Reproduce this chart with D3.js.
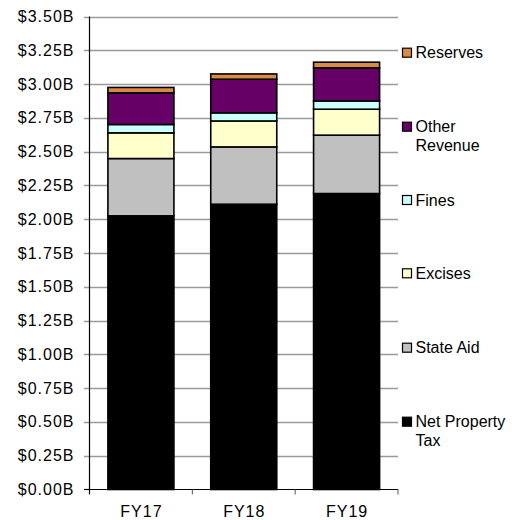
<!DOCTYPE html>
<html>
<head>
<meta charset="utf-8">
<script src="https://cdn.jsdelivr.net/npm/d3@7"></script>
<style>
  html, body { margin: 0; padding: 0; background: #fff; }
  svg { display: block; }
  text { font-family: "Liberation Sans", Arial, sans-serif; fill: #000; }
</style>
</head>
<body>
<svg id="chart" width="521" height="520"></svg>
<script>
// ---- Data ----
const categories = ["FY17", "FY18", "FY19"];
const seriesNames = ["Net Property Tax", "State Aid", "Excises", "Fines", "Other Revenue", "Reserves"];
const netPropertyTax = [2.025, 2.111, 2.190];
const stateAid       = [0.424, 0.424, 0.432];
const excises        = [0.190, 0.192, 0.192];
const fines          = [0.062, 0.060, 0.061];
const otherRevenue   = [0.234, 0.249, 0.245];
const reserves       = [0.040, 0.039, 0.042];
const yTicks = [0, 0.25, 0.5, 0.75, 1.0, 1.25, 1.5, 1.75, 2.0, 2.25, 2.5, 2.75, 3.0, 3.25, 3.5];
const colors = ["#000000", "#C0C0C0", "#FFFFCC", "#CCFFFF", "#660066", "#DA8A45"];
const legendLabels = [["Net Property", "Tax"], ["State Aid"], ["Excises"], ["Fines"], ["Other", "Revenue"], ["Reserves"]];

const seriesValues = [netPropertyTax, stateAid, excises, fines, otherRevenue, reserves];
const table = categories.map((c, i) => {
  const row = { cat: c };
  seriesNames.forEach((s, j) => row[s] = seriesValues[j][i]);
  return row;
});

// ---- Layout ----
const plotLeft = 89.5, plotRight = 398, plotTop = 16.5, plotBottom = 489.5;
const svg = d3.select("#chart");

const y = d3.scaleLinear().domain([0, 3.5]).range([plotBottom, plotTop]);
const x = d3.scaleBand().domain(categories).range([plotLeft, plotRight])
  .paddingInner(0.358).paddingOuter(0.179);

// gridlines (with left tick stubs)
svg.append("g").selectAll("line").data(yTicks).join("line")
  .attr("x1", plotLeft - 5.5).attr("x2", plotRight)
  .attr("y1", d => Math.round(y(d)) + 0.5).attr("y2", d => Math.round(y(d)) + 0.5)
  .attr("stroke", d => d === 0 ? "none" : "#9a9a9a").attr("stroke-width", 1.3);

// y tick labels
svg.append("g").selectAll("text").data(yTicks).join("text")
  .attr("x", 74.5).attr("y", d => y(d) + 5.5)
  .attr("text-anchor", "end")
  .style("font-size", "16px").style("letter-spacing", "1px")
  .text(d => "$" + d3.format(".2f")(d) + "B");

// stacked bars
const stack = d3.stack().keys(seriesNames);
const stacked = stack(table);
svg.append("g").selectAll("g").data(stacked).join("g")
  .attr("fill", (d, i) => colors[i])
  .selectAll("rect").data(d => d).join("rect")
  .attr("x", d => x(d.data.cat))
  .attr("width", x.bandwidth())
  .attr("y", d => y(d[1]))
  .attr("height", d => y(d[0]) - y(d[1]))
  .attr("stroke", "#000").attr("stroke-width", 1.6);

// y axis line
svg.append("line").attr("x1", plotLeft).attr("x2", plotLeft).attr("y1", plotTop).attr("y2", plotBottom + 5)
  .attr("stroke", "#000").attr("stroke-width", 1.2);
// y=0 tick
svg.append("line").attr("x1", plotLeft - 5.5).attr("x2", plotLeft).attr("y1", plotBottom).attr("y2", plotBottom)
  .attr("stroke", "#000").attr("stroke-width", 1.2);
// x axis line
svg.append("line").attr("x1", plotLeft).attr("x2", plotRight).attr("y1", plotBottom).attr("y2", plotBottom)
  .attr("stroke", "#000").attr("stroke-width", 1.2);
// x category boundary ticks
const boundaries = categories.map(c => x(c) - x.step() * x.paddingOuter() + x.step());
svg.append("g").selectAll("line").data(boundaries).join("line")
  .attr("x1", d => d).attr("x2", d => d).attr("y1", plotBottom).attr("y2", plotBottom + 5)
  .attr("stroke", "#555").attr("stroke-width", 1);

// x labels
svg.append("g").selectAll("text").data(categories).join("text")
  .attr("x", d => x(d) + x.bandwidth() / 2 + 0.5).attr("y", 516.5)
  .attr("text-anchor", "middle")
  .style("font-size", "16px").style("letter-spacing", "1px")
  .text(d => d);

// legend
const legendY = [421.7, 347.7, 273.3, 200, 126.7, 52.7];
const lg = svg.append("g").selectAll("g").data(seriesNames).join("g")
  .attr("transform", (d, i) => `translate(402, ${legendY[i]})`);
lg.append("rect").attr("x", 0.5).attr("y", -4.5).attr("width", 9).attr("height", 9)
  .attr("fill", (d, i) => colors[i]).attr("stroke", "#000").attr("stroke-width", 1.2);
lg.each(function (d, i) {
  const t = d3.select(this).append("text").attr("x", 13.5).attr("y", 5.5)
    .style("font-size", "16px");
  legendLabels[i].forEach((line, k) => {
    t.append("tspan").attr("x", 13.5).attr("dy", k === 0 ? 0 : 19).text(line);
  });
});
</script>
</body>
</html>
